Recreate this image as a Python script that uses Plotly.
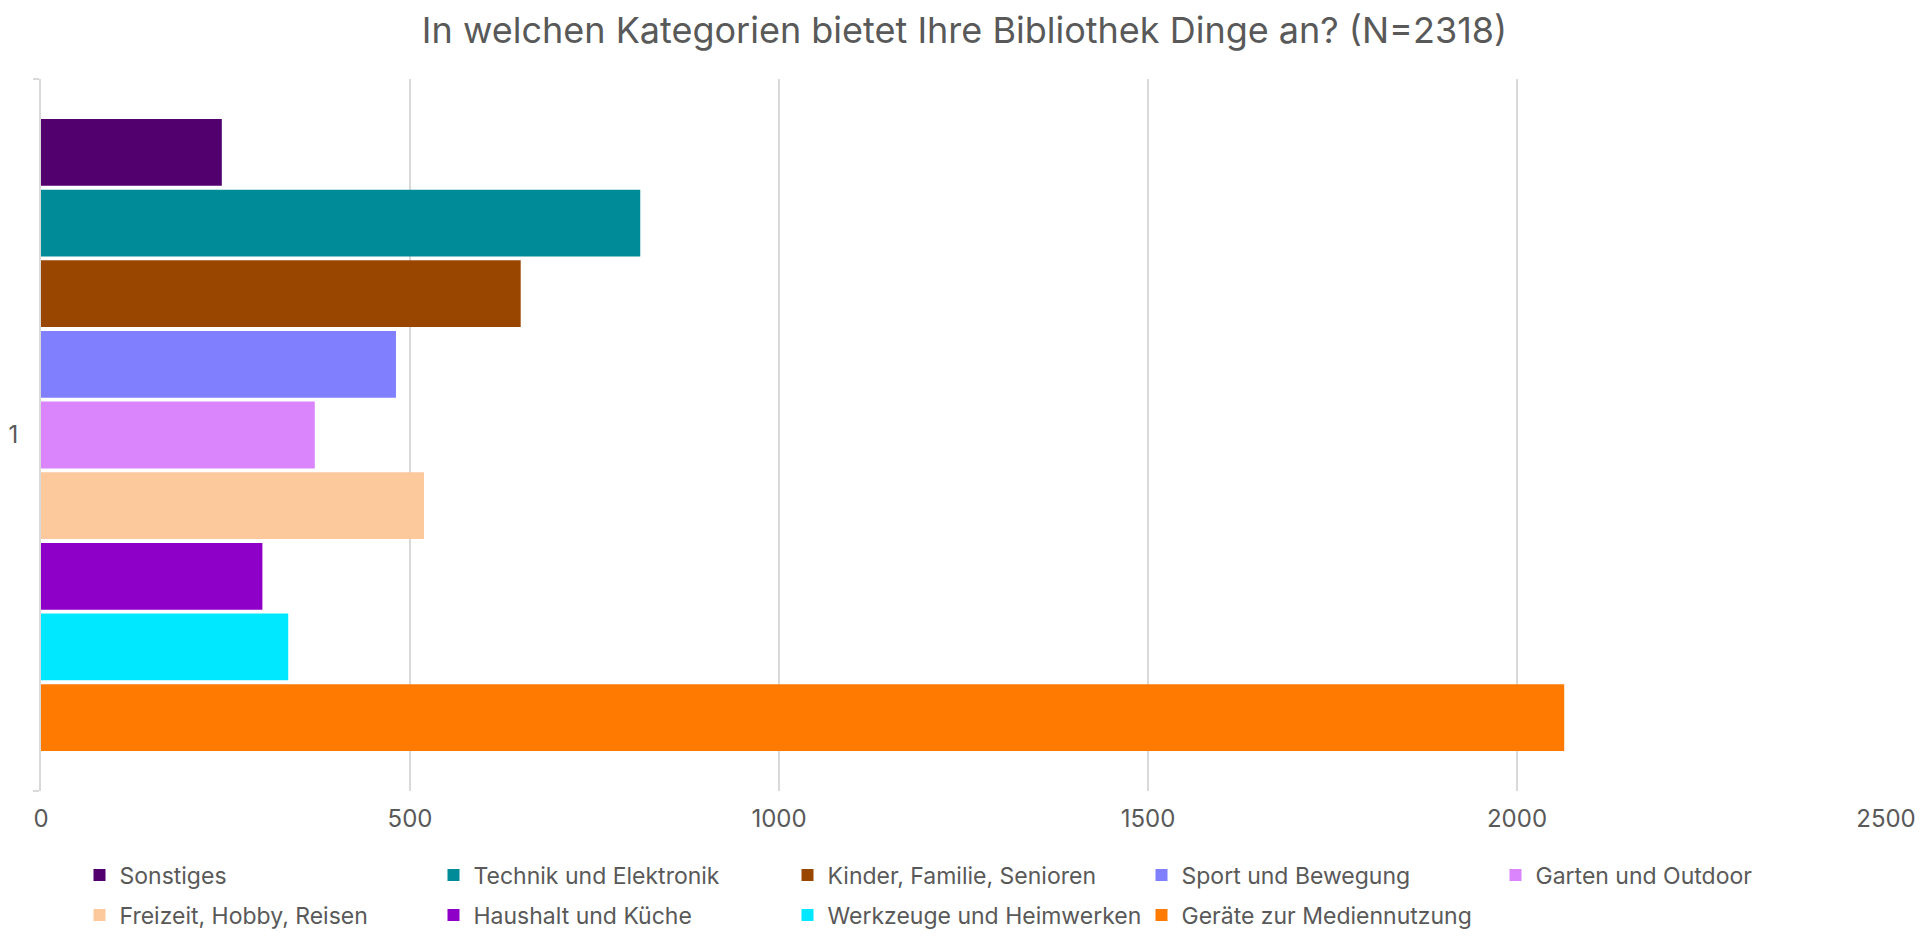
import plotly.graph_objects as go

categories = ["1"]
series_names = [
    "Sonstiges",
    "Technik und Elektronik",
    "Kinder, Familie, Senioren",
    "Sport und Bewegung",
    "Garten und Outdoor",
    "Freizeit, Hobby, Reisen",
    "Haushalt und Küche",
    "Werkzeuge und Heimwerken",
    "Geräte zur Mediennutzung",
]
series_values = [245, 812, 650, 481, 371, 519, 300, 335, 2064]
series_colors = [
    "#52006E", "#008B98", "#984600", "#8080FF", "#DA85FC",
    "#FCC99C", "#8E00C7", "#00E8FF", "#FF7A00",
]
x_ticks = [0, 500, 1000, 1500, 2000, 2500]

FONT = "Inter"
GREY = "#595959"
W, H = 1913, 923

fig = go.Figure()
for i, (name, val, col) in enumerate(zip(series_names, series_values, series_colors)):
    fig.add_trace(go.Bar(
        y=categories, x=[val], name=name, orientation="h",
        marker=dict(color=col, line=dict(width=0)),
        legend="legend" if i < 5 else "legend2",
    ))

legend_common = dict(
    orientation="h", xref="container", yref="container",
    x=71.5 / W, xanchor="left", yanchor="middle",
    entrywidth=309, entrywidthmode="pixels",
    font=dict(family=FONT, size=23, color=GREY),
    itemwidth=30, traceorder="normal", bgcolor="rgba(0,0,0,0)",
)

fig.update_layout(
    width=W, height=H,
    paper_bgcolor="white", plot_bgcolor="white",
    margin=dict(l=33, r=35, t=71, b=140, autoexpand=False),
    barmode="group", bargap=0.107, bargroupgap=0.055,
    title=dict(
        text="In welchen Kategorien bietet Ihre Bibliothek Dinge an? (N=2318)",
        x=0.5, xanchor="center", y=1 - 22 / H, yanchor="middle",
        font=dict(family=FONT, size=36, color=GREY), automargin=False,
    ),
    font=dict(family=FONT, color=GREY),
    xaxis=dict(
        range=[0, 2500], tickvals=x_ticks, ticktext=[str(t) for t in x_ticks],
        showgrid=True, gridcolor="#D9D9D9", gridwidth=2,
        zeroline=False, showline=False, automargin=False,
        ticks="outside", ticklen=6, tickcolor="rgba(0,0,0,0)",
        tickfont=dict(family=FONT, size=24, color=GREY),
    ),
    yaxis=dict(
        autorange="reversed", type="category", automargin=False,
        showgrid=False, zeroline=False,
        showline=True, linecolor="#D9D9D9", linewidth=2,
        ticks="outside", tickson="boundaries", ticklen=6, tickcolor="#D9D9D9", tickwidth=2,
        ticklabelstandoff=16,
        tickfont=dict(family=FONT, size=24, color=GREY),
    ),
    legend=dict(legend_common, y=1 - 867 / H),
    legend2=dict(legend_common, y=1 - 907 / H),
)

fig.write_html("out.html")
